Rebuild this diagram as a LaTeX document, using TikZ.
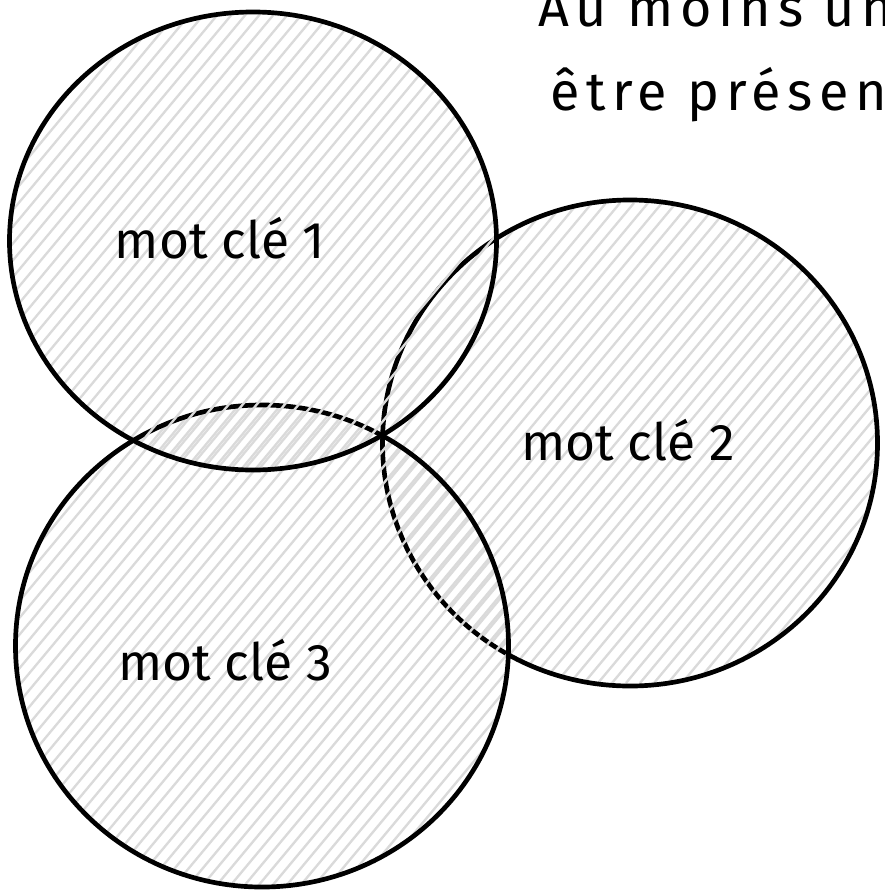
\documentclass[tikz,border=0pt]{standalone}
\usepackage{fontspec}
\setmainfont{Fira Sans}
\usetikzlibrary{shapes.geometric}
\definecolor{hatchgray}{RGB}{218,218,218}

\begin{document}
\begin{tikzpicture}[
  x=0.03cm, y=-0.03cm,
  every node/.style={font=\fontsize{44}{52}\selectfont},
  hatchline/.style={draw=hatchgray, line width=2pt},
  keyset/.style={ellipse, draw, line width=4pt, inner sep=0pt,
    path picture={\foreach \i in {-36,...,36}
      {\draw[hatchline] ([xshift=\i*0.42cm]path picture bounding box.center) ++(-200,240) -- ++(400,-480);}}},
  keyword/.style={inner sep=0pt, anchor=base},
  note/.style={inner sep=0pt, anchor=base west,
    font=\fontsize{46}{54}\selectfont\addfontfeature{LetterSpace=12}}
]
\clip (0,0) rectangle (884,891);

\node[keyset, minimum width=14.85cm, minimum height=14.58cm] (set2) at (630,443) {};
\node[keyset, minimum width=14.79cm, minimum height=14.46cm] (set3) at (262,646) {};
\node[keyset, minimum width=14.61cm, minimum height=13.74cm] (set1) at (253,241) {};

\node[keyword] (kw1) at (220,258) {mot clé 1};
\node[keyword] (kw2) at (628,460) {mot clé 2};
\node[keyword] (kw3) at (225,680) {mot clé 3};

\node[note] (line1) at (538,26) {Au moins un};
\node[note] (line2) at (550,110) {être présen};
\end{tikzpicture}
\end{document}
